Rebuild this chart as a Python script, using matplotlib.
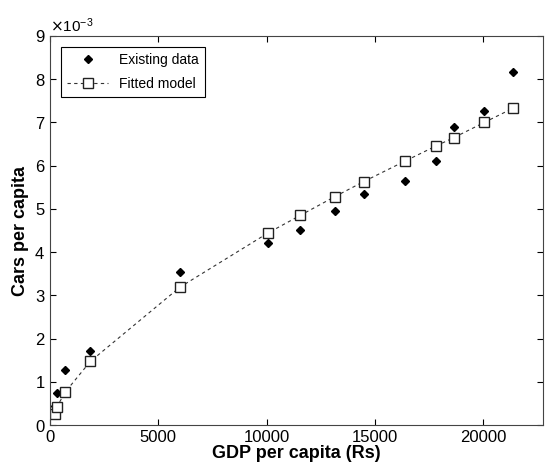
import matplotlib
matplotlib.use('Agg')
import matplotlib.pyplot as plt

# GDP per capita (Rs)
gdp = [210, 320, 700, 1860, 6000, 10050, 11550, 13130, 14470,
       16400, 17790, 18640, 20040, 21370]

# cars per capita, observed
cars_data = [0.45e-3, 0.73e-3, 1.27e-3, 1.72e-3, 3.53e-3, 4.21e-3, 4.52e-3,
             4.95e-3, 5.35e-3, 5.64e-3, 6.11e-3, 6.90e-3, 7.27e-3, 8.17e-3]

# cars per capita, fitted model
cars_model = [0.25e-3, 0.42e-3, 0.76e-3, 1.47e-3, 3.19e-3, 4.44e-3, 4.85e-3,
              5.28e-3, 5.63e-3, 6.11e-3, 6.45e-3, 6.65e-3, 7.00e-3, 7.33e-3]

plt.rcParams['font.family'] = ['Liberation Sans', 'DejaVu Sans']

fig = plt.figure(figsize=(5.46, 4.70), dpi=100)
ax = fig.add_axes([50 / 546, 45 / 470, 493 / 546, 389 / 470])

ax.plot(gdp, cars_data, 'kD', markersize=4.5, label='Existing data')
ax.plot(gdp, cars_model, color='#333333', linestyle=(0, (3, 3)), linewidth=0.8,
        marker='s', markersize=7, markerfacecolor='white',
        markeredgecolor='#222222', markeredgewidth=1.0, label='Fitted model')

ax.set_xlim(0, 22750)
ax.set_ylim(0, 9e-3)
ax.set_xticks([0, 5000, 10000, 15000, 20000])
ax.set_yticks([i * 1e-3 for i in range(10)])
ax.ticklabel_format(style='sci', axis='y', scilimits=(0, 0), useMathText=True)
ax.yaxis.get_offset_text().set_fontsize(11)

ax.tick_params(direction='in', top=True, right=True, length=4, labelsize=12)
for s in ax.spines.values():
    s.set_color('#444444')

ax.set_xlabel('GDP per capita (Rs)', fontsize=13, fontweight='bold', labelpad=0)
ax.set_ylabel('Cars per capita', fontsize=13, fontweight='bold', labelpad=4)

leg = ax.legend(loc='upper left', fontsize=10, fancybox=False, framealpha=1,
                edgecolor='black', borderaxespad=0.8, handlelength=3,
                labelspacing=0.75)
leg.get_frame().set_linewidth(0.8)

fig.savefig('out.png', dpi=100)
